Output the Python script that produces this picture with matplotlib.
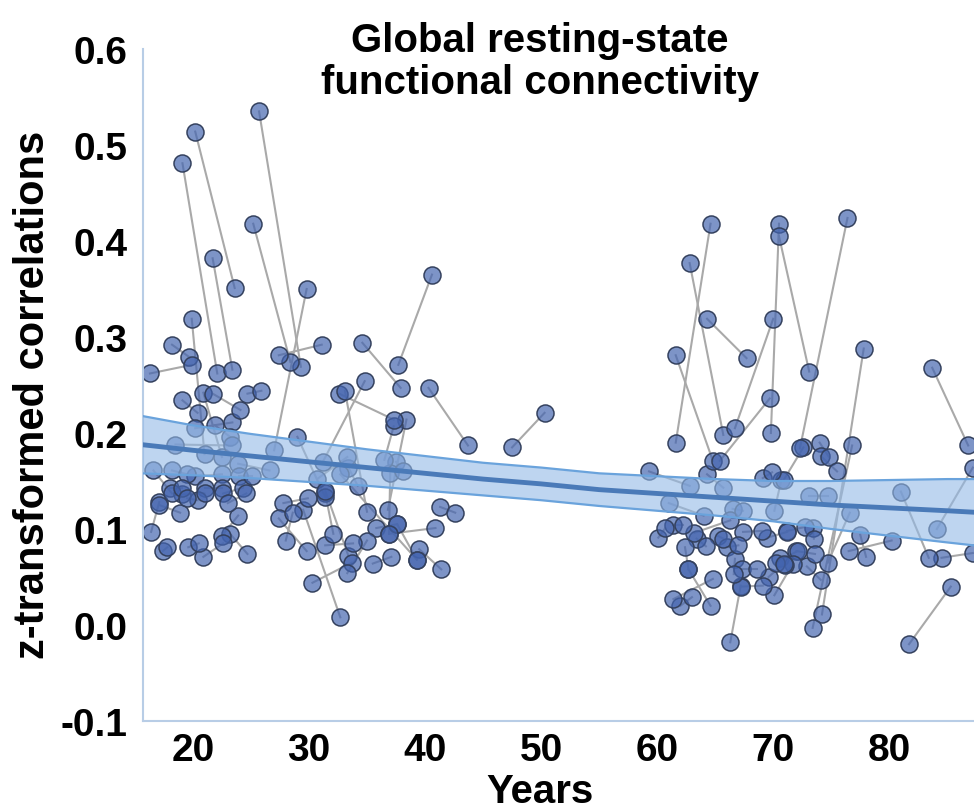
import numpy as np
import matplotlib
matplotlib.use("Agg")
import matplotlib.pyplot as plt

plt.rcParams['font.family'] = ['Liberation Sans Narrow', 'Liberation Sans', 'DejaVu Sans']
plt.rcParams['font.weight'] = 'bold'

# subjects: first and second measurement (age in years, z-transformed correlation)
age_a = [25.7, 20.2, 19.1, 25.2, 21.7, 29.8, 40.6, 34.6, 31.1, 19.9, 18.2, 16.3, 30.3, 32.7,
         34.8, 32.6, 33.1, 40.3, 47.5, 38.4, 37.3, 20.9, 21.7, 24.7, 19.1, 21.9, 23.4, 18.5,
         23.9, 16.6, 18.2, 20.2, 24.0, 18.0, 21.0, 24.3, 19.1, 24.6, 17.1, 17.1, 20.4, 23.9,
         27.8, 27.4, 23.2, 28.0, 17.4, 19.6, 20.9, 31.4, 31.4, 41.3, 35.8, 36.9, 31.4, 35.0,
         35.5, 39.5, 39.3, 33.4, 33.3, 33.4, 32.7, 37.5, 37.0,
         64.6, 62.8, 64.3, 70.5, 70.5, 76.4, 70.0, 61.6, 77.8, 83.7, 69.7, 74.0, 72.6, 76.8,
         74.1, 81.0, 84.1, 85.3, 84.5, 80.2, 77.5, 73.1, 76.6, 71.2, 73.4, 72.0, 70.6, 72.9,
         59.3, 64.3, 69.1, 70.7, 61.0, 66.5, 66.3, 60.1, 61.4, 63.4, 62.4, 65.2, 66.0, 67.4,
         69.5, 72.1, 66.7, 64.8, 67.3, 69.6, 71.7, 67.2, 67.2, 62.0, 64.6]
fc_a = [0.535, 0.514, 0.481, 0.418, 0.382, 0.350, 0.365, 0.294, 0.292, 0.319, 0.292, 0.262, 0.044, 0.008,
        0.254, 0.241, 0.244, 0.247, 0.185, 0.214, 0.207, 0.242, 0.241, 0.241, 0.234, 0.208, 0.211, 0.188,
        0.168, 0.161, 0.161, 0.155, 0.155, 0.143, 0.143, 0.143, 0.136, 0.137, 0.128, 0.125, 0.130, 0.114,
        0.127, 0.111, 0.095, 0.088, 0.077, 0.081, 0.071, 0.137, 0.133, 0.123, 0.101, 0.095, 0.083, 0.088,
        0.064, 0.079, 0.068, 0.164, 0.175, 0.072, 0.157, 0.170, 0.158,
        0.418, 0.377, 0.319, 0.418, 0.405, 0.424, 0.319, 0.281, 0.288, 0.268, 0.236, 0.190, 0.185, 0.187,
        0.176, 0.139, 0.100, 0.040, 0.070, 0.088, 0.094, 0.134, 0.117, 0.098, 0.101, 0.077, 0.070, 0.061,
        0.160, 0.157, 0.153, 0.151, 0.127, 0.121, 0.109, 0.091, 0.104, 0.090, 0.081, 0.093, 0.081, 0.097,
        0.091, 0.077, 0.069, 0.048, 0.058, 0.050, 0.064, 0.041, 0.040, 0.020, 0.020]
age_b = [29.3, 23.6, 22.1, 28.4, 23.4, 27.0, 37.7, 37.9, 27.4, 21.0, 19.7, 19.9, 33.7, 29.5,
         31.2, 37.3, 35.0, 43.7, 50.3, 36.8, 36.5, 22.5, 24.1, 25.9, 20.4, 23.2, 20.2, 23.4,
         26.6, 18.2, 19.5, 22.5, 25.1, 19.1, 22.5, 22.6, 21.0, 23.0, 16.4, 18.9, 19.5, 22.5,
         29.9, 29.8, 24.7, 28.6, 17.8, 20.5, 22.6, 32.1, 29.0, 42.6, 37.6, 40.9, 33.8, 33.3,
         37.1, 41.4, 37.6, 34.2, 30.7, 31.4, 39.3, 38.1, 36.9,
         61.6, 65.7, 67.7, 69.8, 73.1, 72.3, 66.7, 64.8, 74.2, 86.8, 65.4, 74.8, 70.9, 73.4,
         75.5, 83.4, 87.2, 81.7, 87.2, 76.5, 78.0, 74.7, 74.7, 72.7, 73.5, 73.6, 71.0, 74.1,
         62.8, 65.7, 69.9, 70.1, 64.0, 67.4, 63.2, 60.7, 62.2, 64.2, 62.7, 65.7, 67.0, 69.0,
         71.2, 70.2, 66.6, 61.4, 68.6, 70.9, 70.1, 66.3, 69.1, 63.0, 62.7]
fc_b = [0.269, 0.351, 0.262, 0.274, 0.266, 0.182, 0.271, 0.247, 0.281, 0.178, 0.279, 0.271, 0.065, 0.120,
        0.170, 0.214, 0.118, 0.187, 0.221, 0.120, 0.172, 0.175, 0.224, 0.244, 0.221, 0.196, 0.205, 0.187,
        0.161, 0.137, 0.157, 0.157, 0.155, 0.143, 0.143, 0.137, 0.137, 0.127, 0.097, 0.117, 0.132, 0.093,
        0.132, 0.077, 0.074, 0.117, 0.081, 0.085, 0.085, 0.095, 0.196, 0.117, 0.105, 0.101, 0.085, 0.054,
        0.071, 0.058, 0.105, 0.145, 0.152, 0.140, 0.068, 0.160, 0.095,
        0.190, 0.198, 0.278, 0.200, 0.264, 0.184, 0.205, 0.171, 0.011, 0.187, 0.171, 0.175, 0.151, -0.003,
        0.160, 0.070, 0.164, -0.020, 0.075, 0.077, 0.071, 0.134, 0.065, 0.102, 0.090, 0.074, 0.062, 0.047,
        0.145, 0.143, 0.159, 0.119, 0.114, 0.119, 0.096, 0.101, 0.104, 0.082, 0.058, 0.090, 0.083, 0.098,
        0.097, 0.065, 0.053, 0.027, 0.058, 0.064, 0.031, -0.018, 0.041, 0.029, 0.058]

# fitted age trend with confidence band
fit_age = [15.5, 20, 25, 30, 35, 40, 45, 50, 55, 60, 65, 70, 75, 80, 85, 88]
fit_mid = [0.188, 0.182, 0.176, 0.170, 0.164, 0.158, 0.152, 0.147, 0.141, 0.137, 0.133, 0.129, 0.125, 0.122, 0.119, 0.117]
fit_lo = [0.158, 0.156, 0.153, 0.149, 0.145, 0.140, 0.135, 0.130, 0.124, 0.119, 0.114, 0.108, 0.100, 0.093, 0.086, 0.082]
fit_hi = [0.218, 0.208, 0.199, 0.191, 0.183, 0.176, 0.169, 0.164, 0.158, 0.155, 0.152, 0.150, 0.150, 0.151, 0.152, 0.152]

fig = plt.figure(figsize=(9.74, 8.12), dpi=100)
ax = fig.add_axes([143 / 974, 90 / 812, 831 / 974, 672 / 812])

# lines joining the two visits of each subject
for xa, ya, xb, yb in zip(age_a, fc_a, age_b, fc_b):
    ax.plot([xa, xb], [ya, yb], color='#a9a9a9', lw=1.5, zorder=1)

ax.scatter(age_a + age_b, fc_a + fc_b, s=150, facecolor=(0.263, 0.392, 0.686, 0.69),
           edgecolor='#34415e', linewidth=1.1, zorder=2)

ax.fill_between(fit_age, fit_lo, fit_hi, color='#93b9e6', alpha=0.6, lw=0, zorder=3)
ax.plot(fit_age, fit_lo, color='#6aa3dc', lw=1.6, zorder=4)
ax.plot(fit_age, fit_hi, color='#6aa3dc', lw=1.6, zorder=4)
ax.plot(fit_age, fit_mid, color='#4a7ab8', lw=3.5, zorder=5)

ax.set_xlim(15.7, 87.3)
ax.set_ylim(-0.1, 0.6)
ax.set_xticks([20, 30, 40, 50, 60, 70, 80])
ax.set_yticks([-0.1, 0.0, 0.1, 0.2, 0.3, 0.4, 0.5, 0.6])
ax.set_yticklabels(['-0.1', '0.0', '0.1', '0.2', '0.3', '0.4', '0.5', '0.6'])
ax.tick_params(length=0, labelsize=28)
ax.tick_params(axis='y', pad=11)
ax.tick_params(axis='x', pad=8)
for lab in ax.get_xticklabels() + ax.get_yticklabels():
    lab.set_fontweight('bold')

for side in ['top', 'right']:
    ax.spines[side].set_visible(False)
for side in ['left', 'bottom']:
    ax.spines[side].set_color('#b8cde6')
    ax.spines[side].set_linewidth(1.5)

fig.text(540 / 974, 1 - 62 / 812, 'Global resting-state\nfunctional connectivity',
         ha='center', va='center', fontsize=29, fontweight='bold', linespacing=1.1)
fig.text(33 / 974, 1 - 395 / 812, 'z-transformed correlations', rotation=90,
         ha='center', va='center', fontsize=30, fontweight='bold')
fig.text(540 / 974, 1 - 792 / 812, 'Years', ha='center', va='center',
         fontsize=29, fontweight='bold')

fig.savefig('out.png', dpi=100)
